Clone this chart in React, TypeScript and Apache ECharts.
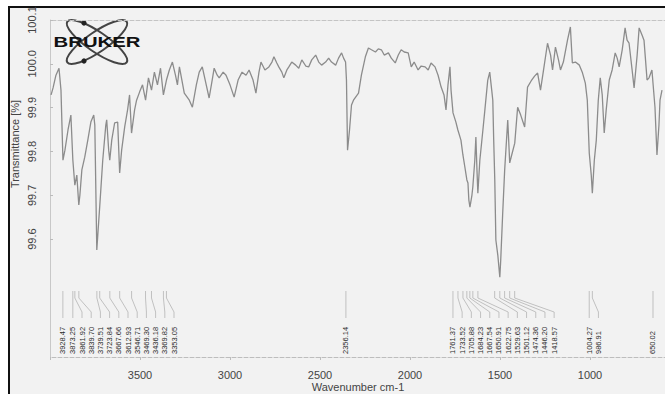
import React, { useEffect, useRef } from "react";
import * as echarts from "echarts";

// Spectrum: wavenumber (cm-1) and transmittance (%)
const wavenumbers = [
  3994, 3983, 3967, 3950, 3939, 3928, 3917, 3900, 3884, 3873, 3862, 3851, 3840, 3834, 3823, 3807,
  3790, 3773, 3757, 3751, 3740, 3729, 3724, 3707, 3690, 3685, 3674, 3668, 3657, 3641, 3624, 3613,
  3602, 3585, 3569, 3558, 3547, 3530, 3519, 3502, 3486, 3469, 3453, 3436, 3420, 3403, 3386, 3370,
  3353, 3337, 3320, 3303, 3292, 3281, 3254, 3226, 3209, 3187, 3171, 3154, 3132, 3116, 3099, 3088,
  3071, 3060, 3038, 3022, 3000, 2977, 2955, 2933, 2911, 2894, 2872, 2856, 2839, 2828, 2806, 2784,
  2767, 2756, 2740, 2729, 2712, 2701, 2684, 2673, 2657, 2635, 2618, 2601, 2579, 2563, 2546, 2524,
  2507, 2491, 2469, 2452, 2436, 2413, 2397, 2380, 2369, 2358, 2353, 2347, 2336, 2325, 2314, 2297,
  2286, 2270, 2248, 2231, 2214, 2192, 2176, 2159, 2143, 2120, 2104, 2082, 2065, 2049, 2032, 2010,
  1993, 1977, 1955, 1938, 1916, 1899, 1883, 1861, 1844, 1827, 1811, 1800, 1789, 1778, 1772, 1761,
  1745, 1734, 1717, 1706, 1695, 1684, 1678, 1673, 1667, 1656, 1651, 1640, 1634, 1628, 1623, 1612,
  1595, 1584, 1568, 1557, 1546, 1540, 1535, 1529, 1523, 1512, 1501, 1496, 1485, 1474, 1457, 1446,
  1435, 1418, 1402, 1385, 1363, 1347, 1324, 1308, 1291, 1275, 1258, 1236, 1219, 1208, 1192, 1175,
  1164, 1148, 1125, 1109, 1098, 1081, 1059, 1043, 1026, 1015, 1004, 993, 987, 976, 965, 954,
  943, 932, 921, 910, 893, 877, 860, 849, 838, 821, 805, 794, 783, 766, 755, 738,
  727, 711, 700, 683, 672, 656, 639, 628, 617, 611, 600,
];
const transmittance = [
  99.929, 99.945, 99.974, 99.99, 99.94, 99.78, 99.803, 99.849, 99.883, 99.78, 99.723, 99.746, 99.678, 99.7, 99.758, 99.787,
  99.826, 99.867, 99.883, 99.86, 99.575, 99.643, 99.673, 99.78, 99.86, 99.872, 99.803, 99.78, 99.826, 99.865, 99.867, 99.751,
  99.803, 99.856, 99.895, 99.929, 99.842, 99.895, 99.917, 99.936, 99.952, 99.917, 99.968, 99.94, 99.981, 99.952, 99.99, 99.929,
  99.963, 99.986, 100.004, 99.974, 99.952, 99.993, 99.933, 99.917, 99.901, 99.952, 99.981, 99.993, 99.952, 99.922, 99.963, 99.99,
  99.974, 99.968, 99.981, 99.974, 99.952, 99.924, 99.963, 99.981, 99.974, 99.986, 99.963, 99.933, 99.981, 100.004, 99.986, 99.993,
  100.004, 100.016, 100.002, 99.993, 99.981, 99.968, 99.986, 99.993, 100.004, 99.997, 99.99, 100.009, 99.995, 99.993, 100.009, 100.02,
  100.004, 99.997, 100.004, 100.013, 100.004, 99.997, 100.013, 100.025, 100.013, 100.004, 99.963, 99.803, 99.849, 99.906, 99.917, 99.927,
  99.933, 99.974, 100.016, 100.036, 100.032, 100.027, 100.034, 100.032, 100.02, 100.025, 100.013, 100.002, 100.02, 100.032, 100.027, 100.025,
  99.993, 100.004, 99.986, 99.995, 99.993, 99.986, 100.002, 99.993, 99.974, 99.947, 99.929, 99.895, 99.952, 99.993, 99.94, 99.888,
  99.867, 99.849, 99.826, 99.792, 99.764, 99.735, 99.728, 99.689, 99.673, 99.7, 99.719, 99.78, 99.833, 99.758, 99.705, 99.78,
  99.849, 99.895, 99.963, 99.981, 99.94, 99.917, 99.826, 99.735, 99.598, 99.563, 99.513, 99.552, 99.659, 99.758, 99.872, 99.774,
  99.792, 99.819, 99.901, 99.883, 99.856, 99.947, 99.963, 99.972, 99.979, 99.94, 99.986, 100.047, 100.02, 99.986, 100.038, 100.009,
  99.986, 100.004, 100.054, 100.084, 100.002, 100.004, 99.997, 99.981, 99.956, 99.917, 99.796, 99.746, 99.705, 99.78, 99.826, 99.917,
  99.968, 99.929, 99.842, 99.895, 99.963, 99.986, 100.025, 100.013, 99.993, 100.032, 100.082, 100.054, 100.047, 99.986, 99.945, 100.02,
  100.082, 100.066, 100.054, 99.963, 99.968, 99.986, 99.901, 99.792, 99.86, 99.917, 99.94,
];

const yTickValues = [99.6, 99.7, 99.8, 99.9, 100.0, 100.1];
const xTickValues = [3500, 3000, 2500, 2000, 1500, 1000];

// Peak picks (wavenumber positions and their printed labels)
const peakWavenumbers = [
  3928.47, 3873.25, 3861.92, 3839.7, 3739.51, 3723.84, 3667.66, 3612.93, 3546.71, 3469.3, 3436.18, 3369.82, 3353.05,
  2356.14,
  1761.37, 1733.52, 1705.88, 1684.23, 1667.54, 1650.91, 1622.75, 1529.63, 1501.12, 1474.36, 1446.2, 1418.57,
  1004.27, 986.91,
  650.02,
];
const peakLabels = peakWavenumbers.map((w) => w.toFixed(2));

const FONT = "Arial, 'Liberation Sans', sans-serif";

export default function App() {
  const ref = useRef<HTMLDivElement>(null);

  useEffect(() => {
    if (!ref.current) return;
    const chart = echarts.init(ref.current, null, { renderer: "svg" });
    const spectrum = wavenumbers.map((w, i) => [w, transmittance[i]]);

    const option: any = {
      animation: false,
      backgroundColor: "transparent",
      grid: { left: 50, top: 20, right: 0, bottom: 37 },
      xAxis: [
        {
          type: "value",
          min: 500,
          max: 4000,
          interval: 500,
          inverse: true,
          axisLine: { show: true, lineStyle: { color: "#bdbdbd", type: "dashed", width: 1 } },
          axisTick: { show: true, length: 3, lineStyle: { color: "#bdbdbd" } },
          axisLabel: {
            color: "#444",
            fontSize: 11,
            fontFamily: FONT,
            margin: 12,
            formatter: (v: number) => (xTickValues.indexOf(v) >= 0 ? String(v) : ""),
          },
          splitLine: { show: false },
        },
        {
          type: "value",
          position: "top",
          min: 500,
          max: 4000,
          interval: 500,
          inverse: true,
          axisLine: { show: true, lineStyle: { color: "#c4c4c4", type: "dashed", width: 1 } },
          axisTick: { show: false },
          axisLabel: { show: false },
          splitLine: { show: false },
        },
      ],
      yAxis: {
        type: "value",
        min: 99.331,
        max: 100.1,
        axisLine: { show: true, lineStyle: { color: "#c8c8c8", width: 1 } },
        axisTick: { show: true, inside: true, length: 3, customValues: yTickValues, lineStyle: { color: "#bbb" } },
        axisLabel: {
          customValues: yTickValues,
          rotate: 90,
          color: "#444",
          fontSize: 11,
          fontFamily: FONT,
          margin: 13,
          formatter: (v: number) => v.toFixed(1),
        },
        splitLine: { show: false },
      },
      graphic: [
        {
          type: "text",
          x: 15,
          y: 144,
          rotation: Math.PI / 2,
          style: {
            text: "Transmittance [%]",
            fontSize: 11,
            fontFamily: FONT,
            fill: "#444",
            align: "center",
            verticalAlign: "middle",
          },
        },
        {
          type: "text",
          x: 358,
          y: 387,
          style: {
            text: "Wavenumber cm-1",
            fontSize: 11,
            fontFamily: FONT,
            fill: "#444",
            align: "center",
            verticalAlign: "middle",
          },
        },
        {
          type: "group",
          children: [
            {
              type: "ellipse",
              x: 97,
              y: 42,
              rotation: 0.6,
              shape: { cx: 0, cy: 0, rx: 36, ry: 10 },
              style: { fill: "none", stroke: "#444", lineWidth: 2 },
            },
            {
              type: "ellipse",
              x: 97,
              y: 42,
              rotation: -0.6,
              shape: { cx: 0, cy: 0, rx: 36, ry: 10 },
              style: { fill: "none", stroke: "#444", lineWidth: 2 },
            },
            { type: "circle", shape: { cx: 84, cy: 23, r: 2.6 }, style: { fill: "#222" } },
            { type: "circle", shape: { cx: 84, cy: 61, r: 2.6 }, style: { fill: "#222" } },
            {
              type: "text",
              x: 97,
              y: 42,
              scaleX: 1.45,
              style: {
                text: "BRUKER",
                fontSize: 14,
                fontWeight: "bold",
                fontFamily: FONT,
                fill: "#111",
                align: "center",
                verticalAlign: "middle",
              },
            },
          ],
        },
      ],
      series: [
        {
          type: "line",
          data: spectrum,
          showSymbol: false,
          lineStyle: { color: "#8c8c8c", width: 1.3 },
          silent: true,
          z: 2,
        },
        {
          type: "custom",
          coordinateSystem: "cartesian2d",
          silent: true,
          z: 3,
          data: peakWavenumbers.map((w, i) => [w, 99.5, i]),
          renderItem: (params: any, api: any) => {
            const cs = params.coordSys;
            const bottom = cs.y + cs.height;
            const xs = peakWavenumbers.map((w) => api.coord([w, 99.5])[0]);
            const lx: number[] = [];
            for (let k = 0; k < xs.length; k++) {
              lx.push(k === 0 ? xs[k] : Math.max(xs[k], lx[k - 1] + 9.2));
            }
            const i = params.dataIndex;
            const px = xs[i];
            const qx = lx[i];
            return {
              type: "group",
              children: [
                {
                  type: "polyline",
                  shape: {
                    points: [
                      [px, bottom - 66],
                      [px, bottom - 59],
                      [qx, bottom - 45],
                      [qx, bottom - 39],
                    ],
                  },
                  style: { stroke: "#b4b4b4", lineWidth: 0.8, fill: null },
                },
                {
                  type: "text",
                  x: qx,
                  y: bottom - 3,
                  rotation: Math.PI / 2,
                  style: {
                    text: peakLabels[i],
                    fontSize: 7.5,
                    fontFamily: FONT,
                    fill: "#2a2a2a",
                    align: "left",
                    verticalAlign: "middle",
                  },
                },
              ],
            };
          },
        },
      ],
    };

    chart.setOption(option);
    return () => chart.dispose();
  }, []);

  return (
    <div
      style={{
        position: "fixed",
        left: 0,
        top: 0,
        width: 665,
        height: 394,
        overflow: "hidden",
        background: "#ffffff",
      }}
    >
      <div
        style={{
          position: "absolute",
          left: 8,
          top: 6,
          width: 720,
          height: 420,
          borderLeft: "2px solid #111",
          borderTop: "2px solid #111",
          background: "#f2f2f2",
        }}
      />
      <div ref={ref} style={{ position: "absolute", left: 0, top: 0, width: 683, height: 394 }} />
    </div>
  );
}
